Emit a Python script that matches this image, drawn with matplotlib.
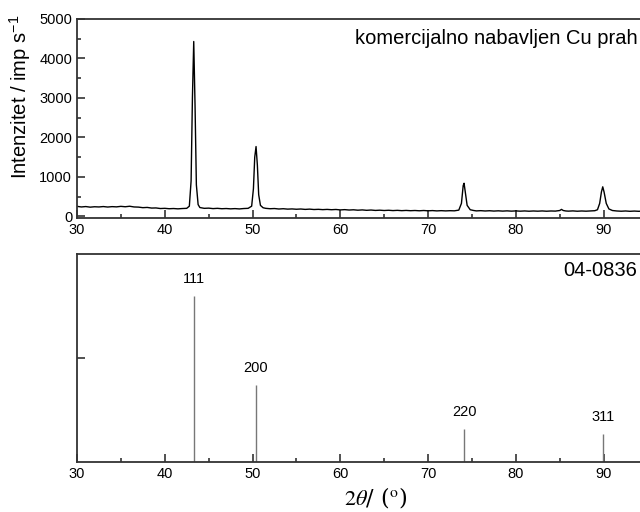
import matplotlib
matplotlib.use('Agg')
from matplotlib import pyplot as plt
from matplotlib.ticker import MultipleLocator

plt.rcParams['font.family'] = ['Liberation Sans', 'DejaVu Sans']
plt.rcParams['mathtext.fontset'] = 'stix'

# measured pattern (2theta in degrees, counts per second)
two_theta = [30.0, 30.5, 31.0, 31.5, 32.0, 32.5, 33.0, 33.5, 34.0, 34.5,
             35.0, 35.5, 36.0, 36.5, 37.0, 37.5, 38.0, 38.5, 39.0, 39.5,
             40.0, 40.5, 41.0, 41.5, 42.0, 42.5, 42.8, 43.0, 43.15, 43.3,
             43.45, 43.6, 43.8, 44.0, 44.5, 45.0, 45.5, 46.0, 46.5, 47.0,
             47.5, 48.0, 48.5, 49.0, 49.5, 49.9, 50.1, 50.25, 50.4, 50.55,
             50.7, 50.9, 51.2, 51.5, 52.0, 52.5, 53.0, 53.5, 54.0, 54.5,
             55.0, 55.5, 56.0, 56.5, 57.0, 57.5, 58.0, 58.5, 59.0, 59.5,
             60.0, 60.5, 61.0, 61.5, 62.0, 62.5, 63.0, 63.5, 64.0, 64.5,
             65.0, 65.5, 66.0, 66.5, 67.0, 67.5, 68.0, 68.5, 69.0, 69.5,
             70.0, 70.5, 71.0, 71.5, 72.0, 72.5, 73.0, 73.5, 73.8, 74.0,
             74.1, 74.25, 74.45, 74.8, 75.2, 75.5, 76.0, 76.5, 77.0, 77.5,
             78.0, 78.5, 79.0, 79.5, 80.0, 80.5, 81.0, 81.5, 82.0, 82.5,
             83.0, 83.5, 84.0, 84.5, 85.0, 85.2, 85.4, 85.7, 86.0, 86.5,
             87.0, 87.5, 88.0, 88.5, 89.0, 89.3, 89.55, 89.75, 89.9, 90.05,
             90.3, 90.6, 91.0, 91.5, 92.0, 92.5, 93.0, 93.5, 94.0, 94.5,
             95.0]
intensity = [255, 240, 250, 235, 245, 240, 250, 238, 248, 242,
             255, 245, 258, 240, 236, 222, 228, 212, 215, 200,
             205, 195, 200, 192, 200, 205, 260, 900, 3000, 4430,
             2800, 800, 300, 225, 205, 210, 198, 205, 195, 200,
             192, 198, 190, 200, 205, 260, 700, 1500, 1770, 1300,
             550, 280, 220, 205, 195, 200, 188, 195, 185, 190,
             182, 188, 178, 185, 175, 180, 172, 178, 170, 176,
             165, 172, 162, 168, 158, 165, 155, 162, 152, 158,
             150, 156, 148, 154, 146, 152, 145, 150, 143, 150,
             142, 148, 140, 146, 140, 145, 142, 160, 330, 780,
             840, 600, 280, 170, 150, 140, 146, 138, 144, 136,
             142, 135, 141, 134, 140, 133, 139, 132, 138, 133,
             139, 132, 138, 135, 150, 178, 150, 138, 134, 140,
             132, 138, 133, 140, 145, 170, 330, 620, 750, 620,
             330, 190, 150, 138, 132, 138, 130, 136, 130, 135,
             131]

# reference card 04-0836 (Cu)
ref_pos = [43.3, 50.4, 74.1, 89.9]
ref_int = [100, 46, 20, 17]
ref_hkl = ['111', '200', '220', '311']

fig = plt.figure(figsize=(6.4, 5.12), dpi=100)

spine_col = '#333333'
left = 77 / 640

a = fig.add_axes([left, 0.5742, 1 - left, 0.3887])
a.plot(two_theta, intensity, color='black', lw=1.0)
a.set_ylim(-40, 5000)
a.yaxis.set_major_locator(MultipleLocator(1000))
a.yaxis.set_minor_locator(MultipleLocator(500))
a.text(638 / 640, 1 - 38 / 512, 'komercijalno nabavljen Cu prah',
       transform=fig.transFigure, ha='right', va='center', fontsize=14.5)
fig.text(20 / 640, 1 - 97 / 512, 'Intenzitet / imp s$^{\\mathregular{-1}}$',
         rotation=90, ha='center', va='center', fontsize=14.5)

b = fig.add_axes([left, 0.0977, 1 - left, 0.4063])
b.vlines(ref_pos, 0, ref_int, color='#777777', lw=1.0)
for p, h, lab in zip(ref_pos, ref_int, ref_hkl):
    b.text(p, h + 6, lab, ha='center', va='bottom', fontsize=10.5)
b.set_ylim(0, 125)
b.set_yticks([62.5])
b.set_yticklabels([])
b.text(637 / 640, 1 - 271 / 512, '04-0836', transform=fig.transFigure,
       ha='right', va='center', fontsize=14.5)
fig.text(376 / 640, 1 - 498 / 512, '$2\\theta$/ ($^{\\mathrm{o}}$)',
         ha='center', va='center', fontsize=16, family='serif')

for ax in (a, b):
    ax.set_xlim(30, 30 + (640 - 77) / 8.777)
    ax.xaxis.set_major_locator(MultipleLocator(10))
    ax.xaxis.set_minor_locator(MultipleLocator(5))
    ax.tick_params(which='both', direction='in', labelsize=10.5, color=spine_col, width=1.2)
    ax.tick_params(which='major', length=6)
    ax.tick_params(which='minor', length=3)
    ax.spines['right'].set_visible(False)
    for s in ('top', 'bottom', 'left'):
        ax.spines[s].set_color(spine_col)
        ax.spines[s].set_linewidth(1.3)

fig.savefig('out.png', dpi=100)
